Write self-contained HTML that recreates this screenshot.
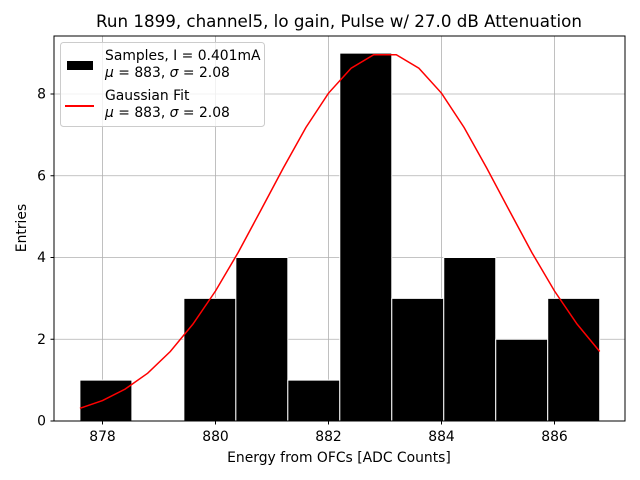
<!DOCTYPE html>
<html><head><meta charset="utf-8"><style>
body{margin:0;background:#fff;}
svg{display:block;font-family:"DejaVu Sans","Liberation Sans",sans-serif;}
</style></head><body>
<svg id="chart" width="640" height="480" viewBox="0 0 640 480">
<rect width="640" height="480" fill="#fff"/>
<text x="339" y="27" font-size="16.7" text-anchor="middle">Run 1899, channel5, lo gain, Pulse w/ 27.0 dB Attenuation</text>
<g id="grid"></g>
<g id="bars"></g>
<g id="line"></g>
<rect x="54" y="36" width="571" height="385" fill="none" stroke="#000" stroke-width="1"/>
<g id="ticks"></g>
<text x="339" y="462" font-size="13.9" text-anchor="middle">Energy from OFCs [ADC Counts]</text>
<text x="26" y="228" font-size="13.9" text-anchor="middle" transform="rotate(-90 26 228)">Entries</text>
<g>
<rect x="60.5" y="42.5" width="204" height="84" rx="3" fill="#fff" fill-opacity="0.8" stroke="#ccc"/>
<rect x="67" y="61" width="26" height="9" fill="#000"/>
<line x1="65" y1="106" x2="94" y2="106" stroke="red" stroke-width="2"/>
<text x="105" y="60" font-size="13.9">Samples, I = 0.401mA</text>
<text x="105" y="77" font-size="13.9"><tspan font-style="italic">μ</tspan> = 883, <tspan font-style="italic">σ</tspan> = 2.08</text>
<text x="105" y="100" font-size="13.9">Gaussian Fit</text>
<text x="105" y="117" font-size="13.9"><tspan font-style="italic">μ</tspan> = 883, <tspan font-style="italic">σ</tspan> = 2.08</text>
</g>
</svg>
<script>
const binEdges=[877.6,878.52,879.44,880.36,881.28,882.2,883.12,884.04,884.96,885.88,886.8];
const counts=[1,0,3,4,1,9,3,4,2,3];
const fitX=[877.6,878.0,878.4,878.8,879.2,879.6,880.0,880.4,880.8,881.2,881.6,882.0,882.4,882.8,883.2,883.6,884.0,884.4,884.8,885.2,885.6,886.0,886.4,886.8];
const fitY=[0.31,0.50,0.78,1.17,1.70,2.37,3.18,4.12,5.15,6.19,7.18,8.02,8.63,8.96,8.96,8.63,8.02,7.18,6.19,5.15,4.12,3.18,2.37,1.70];
const xTicks=[878,880,882,884,886];
const yTicks=[0,2,4,6,8];
const NS="http://www.w3.org/2000/svg";
const X=v=>102.5+(v-878)*56.5;
const Y=v=>421-v*40.875;
function mk(tag,attrs,parent){const e=document.createElementNS(NS,tag);for(const k in attrs)e.setAttribute(k,attrs[k]);document.getElementById(parent).appendChild(e);return e;}
xTicks.forEach(t=>{
 const g=mk('line',{x1:X(t),x2:X(t),y1:36,y2:421,stroke:'#b0b0b0','stroke-width':0.8},'grid');
 
 
 const tk=mk('line',{x1:X(t),x2:X(t),y1:421,y2:424.5,stroke:'#000'},'ticks');
 
 
 const tx=mk('text',{x:X(t),y:441,'font-size':13.9,'text-anchor':'middle'},'ticks');
 tx.textContent=t;
 
 
});
yTicks.forEach(t=>{
 const g=mk('line',{x1:54,x2:625,y1:Y(t),y2:Y(t),stroke:'#b0b0b0','stroke-width':0.8},'grid');
 
 
 const tk=mk('line',{x1:50.5,x2:54,y1:Y(t),y2:Y(t),stroke:'#000'},'ticks');
 
 
 const tx=mk('text',{x:46,y:Y(t)+4.5,'font-size':13.9,'text-anchor':'end'},'ticks');
 tx.textContent=t;
 
 
});
counts.forEach((c,i)=>{
 if(c<=0)return;
 const r=mk('rect',{x:X(binEdges[i]),y:Y(c),width:X(binEdges[i+1])-X(binEdges[i]),height:Y(0)-Y(c),fill:'#000',stroke:'#fff','stroke-width':1},'bars');
 
 
});
const p=mk('polyline',{points:fitX.map((x,i)=>X(x)+','+Y(fitY[i])).join(' '),fill:'none',stroke:'red','stroke-width':1.5},'line');


</script>
</body></html>
